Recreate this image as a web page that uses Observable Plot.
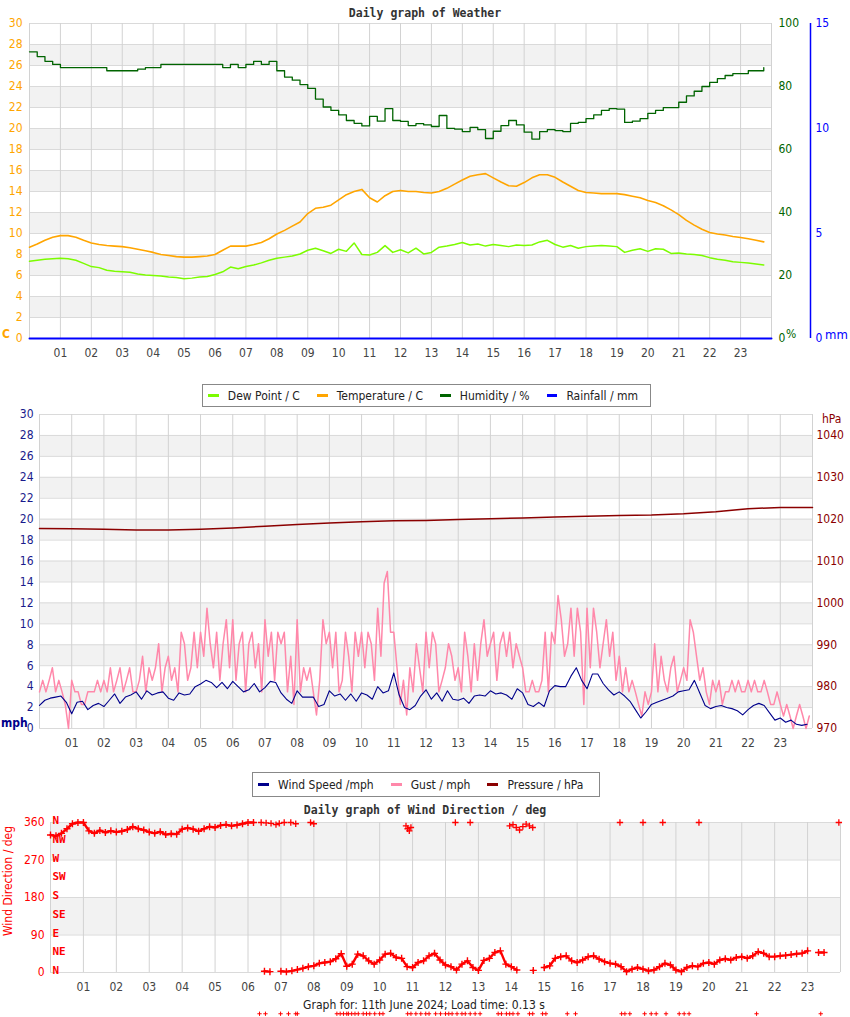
<!DOCTYPE html>
<html><head><meta charset="utf-8">
<script src="https://cdn.jsdelivr.net/npm/d3@7"></script>
<script src="https://cdn.jsdelivr.net/npm/@observablehq/plot@0.6"></script>
<style>
body{margin:0;background:#fff;}
#wrap{position:relative;width:850px;height:1017px;overflow:hidden;font-family:"DejaVu Sans Condensed","DejaVu Sans",sans-serif;}
.abs{position:absolute;white-space:nowrap;line-height:14px;font-size:12px;z-index:5;}
.title{font-family:"DejaVu Sans Mono",monospace;font-weight:bold;font-size:11.5px;color:#333;transform:translateX(-50%);}
.legend{position:absolute;border:1px solid #888;background:#fff;font-size:12px;color:#222;display:flex;align-items:center;white-space:nowrap;z-index:6;box-sizing:border-box;}
.legend .sw{display:inline-block;width:11px;height:3px;margin:0 9px 0 5px;}
.legend .lb{margin-right:12px;}
</style></head>
<body><div id="wrap"></div>
<script>
// ---------- Chart 1: Weather (15-minute samples from 00:00) ----------
const weatherStepMin = 15;
const temperatureC = [
 8.7,9.0,9.35,9.65,9.8,9.8,9.65,9.35, 9.1,8.95,8.85,8.8,8.75,8.65,8.5,8.35,
 8.2,8.0,7.9,7.8,7.75,7.75,7.8,7.85, 8.0,8.4,8.8,8.8,8.8,8.95,9.15,9.5,
 9.95,10.3,10.7,11.1,11.9,12.4,12.5,12.7, 13.2,13.7,14.0,14.2,13.4,13.0,13.6,14.0,
 14.1,14.0,14.0,13.9,13.85,14.0,14.3,14.7, 15.1,15.45,15.6,15.7,15.3,14.9,14.55,14.5,
 14.85,15.3,15.6,15.6,15.35,14.9,14.5,14.1, 13.9,13.85,13.8,13.8,13.8,13.7,13.55,13.4,
 13.15,12.95,12.65,12.25,11.8,11.25,10.8,10.4, 10.1,9.95,9.85,9.72,9.62,9.5,9.35,9.2];
const dewPointC = [
 7.35,7.45,7.55,7.6,7.65,7.6,7.45,7.15, 6.85,6.75,6.5,6.4,6.35,6.3,6.15,6.05,
 6.0,5.95,5.85,5.8,5.7,5.75,5.85,5.9, 6.1,6.35,6.8,6.65,6.85,7.0,7.2,7.45,
 7.65,7.75,7.85,8.05,8.4,8.6,8.35,8.1, 8.5,8.3,9.1,8.0,7.95,8.2,8.85,8.2,
 8.45,8.15,8.6,8.05,8.2,8.7,8.8,8.95, 9.15,8.9,9.0,8.8,8.95,8.85,8.75,8.9,
 8.85,8.9,9.2,9.35,8.95,8.7,8.85,8.6, 8.75,8.8,8.85,8.8,8.75,8.2,8.4,8.55,
 8.3,8.55,8.5,8.1,8.15,8.05,8.0,7.9, 7.7,7.55,7.45,7.3,7.25,7.2,7.1,7.0];
const humidityPct = [
 91,89.5,88,87,86,86,86,86, 86,86,85,85,85,85,85.5,86,
 86,87,87,87,87,87,87,87, 87,86,87,86,87,88,87,88,
 85,83,82,80.6,79.4,76,73.5,72.4, 71,69.2,68.3,67.5,70.5,69,73,69.2,
 68.9,67.6,68.2,67.8,67.3,70.8,66.7,66.5, 65.7,67,66.3,63.5,65.8,67.6,69.2,67.8,
 65.5,63.3,65.7,66.3,66,65.7,68.3,68.6, 69.8,71,72.4,73,72.8,68.6,69,69.8,
 71.5,72.4,73.3,73.3,75,77,78.5,80, 81.3,82.5,83.5,84.1,84.1,85,85,86];
const rainStepMin = 60;
const rainfallMm = [0,0,0,0,0,0,0,0,0,0,0,0,0,0,0,0,0,0,0,0,0,0,0,0,0];

// ---------- Chart 2: Wind speed / gust / pressure ----------
const speedStepMin = 10;
const windSpeedMph = [
 2.2,2.7,2.9,3.0,3.1,2.5, 1.4,2.5,2.6,1.8,2.2,2.4, 2.1,2.7,3.3,2.4,3.0,3.2,
 3.5,2.8,3.6,3.2,3.4,3.5, 2.9,2.7,3.4,3.2,3.3,4.0, 4.25,4.6,4.4,3.9,4.4,3.8,
 4.5,4.0,3.5,3.7,4.3,3.5, 3.9,4.5,4.4,3.4,2.8,2.4, 3.6,3.0,3.0,3.0,2.1,2.3,
 3.6,3.1,3.3,2.7,3.3,2.6, 3.4,3.2,2.8,4.0,3.4,3.6, 5.3,3.2,2.0,1.8,2.2,3.1,
 3.7,2.8,3.4,2.6,3.6,2.8, 2.7,2.9,2.4,3.1,3.2,3.1, 3.6,3.3,3.4,3.2,2.8,3.8,
 3.4,2.3,2.1,2.5,2.1,3.6, 4.1,4.0,4.0,5.0,5.8,4.6, 3.8,5.2,5.2,4.3,3.7,3.2,
 3.5,3.1,2.6,1.8,1.0,1.6, 2.3,2.5,2.7,2.9,3.1,3.5, 3.6,3.7,4.6,3.4,2.2,1.9,
 2.1,2.2,2.0,1.9,1.7,1.3, 1.8,2.2,2.4,2.2,1.5,0.8, 1.0,0.6,0.8,0.4,0.3,0.4];
const gustStepMin = 6;
const gustMph = [
 3.5,4.6,3.5,4.6,5.8,3.5,4.6,3.5,2.3,0.0,
 4.6,3.5,3.5,2.3,2.3,3.5,3.5,3.5,4.6,3.5,
 4.6,3.5,5.8,3.5,4.6,5.8,3.5,4.6,5.8,3.5,
 3.5,4.6,6.9,3.5,5.8,4.6,5.8,8.1,3.5,5.8,
 6.9,4.6,5.8,3.5,9.2,8.1,4.6,5.8,9.2,5.8,
 9.2,6.9,11.5,8.1,5.8,9.2,4.6,8.1,10.4,5.8,
 10.4,4.6,8.1,9.2,3.5,8.1,9.2,5.8,8.1,3.5,
 10.4,6.9,9.2,4.6,9.2,8.1,9.2,3.5,6.9,2.3,
 10.4,3.5,5.8,4.6,5.8,3.5,1.3,4.6,10.4,8.1,
 9.2,5.8,9.2,3.5,4.6,9.2,6.9,3.5,9.2,6.9,
 9.2,5.8,9.2,8.1,4.6,11.5,6.9,13.9,15.0,9.2,
 9.2,5.8,2.3,4.6,1.3,5.8,3.5,8.1,5.8,3.5,
 9.2,5.8,9.2,8.1,3.5,4.6,5.8,8.1,6.9,4.6,
 5.8,3.5,9.2,6.9,3.5,8.1,4.6,8.1,10.4,6.9,
 8.1,9.2,4.6,8.1,9.2,6.9,9.2,5.8,8.1,6.9,
 5.8,3.5,3.5,4.6,3.5,3.5,4.6,9.2,3.5,9.2,
 8.1,12.7,10.4,6.9,8.1,11.5,6.9,11.5,9.2,2.3,
 11.5,5.8,11.5,9.2,5.8,8.1,10.4,6.9,9.2,4.6,
 6.9,3.5,5.8,3.5,4.6,3.5,2.3,1.2,3.5,2.3,
 3.5,8.1,3.5,6.9,4.6,3.5,5.8,6.9,3.5,4.6,
 5.8,4.6,10.4,9.2,6.9,4.6,5.8,3.5,2.3,4.6,
 3.5,4.6,2.3,3.5,3.5,4.6,3.5,4.6,3.5,3.5,
 4.6,3.5,4.6,3.5,3.5,4.6,3.5,2.3,2.3,3.5,
 2.3,1.2,2.3,1.2,0.0,1.2,2.3,1.2,0.0,1.2];
const pressureStepMin = 60;
const pressureHpa = [1017.8,1017.7,1017.6,1017.4,1017.4,1017.6,1017.9,1018.3,1018.7,1019.1,1019.4,1019.6,
 1019.7,1019.9,1020.1,1020.3,1020.5,1020.7,1020.9,1021.0,1021.3,1021.8,1022.5,1022.8,1022.8];

// ---------- Chart 3: Wind direction ----------
const dirStepMin = 10;
const windDirDeg = [
 330,328,334,345,357,360, 360,340,334,341,336,340, 337,339,343,350,345,342,
 337,334,338,331,333,332, 344,347,344,339,345,350, 348,353,355,352,354,357,
 360,360,null,3,2,null, 3,2,4,7,10,14, 16,22,24,26,33,45,
 15,20,44,40,28,20, 30,44,46,36,34,14, 12,24,28,40,46,30,
 18,14,6,20,28,12, 5,29,34,48,52,20, 14,6,null,null,5,null,
 12,16,34,38,40,28, 24,30,38,40,32,26, 22,20,14,2,8,12,
 8,4,6,14,22,18, 6,2,12,16,14,22, 24,20,30,33,30,36,
 38,34,40,50,46,38, 38,40,41,43,45,46, 52,null,48,48,null,null];
const northHours = [6.4,6.55,6.7,6.85,6.95,7.1,7.3,7.45,7.9,8.0,10.8,10.85,10.9,10.95,12.3,12.75,
 13.95,14.05,14.15,14.25,14.35,14.45,14.55,14.65,17.3,18.0,18.6,19.7,23.95];
const northDeg = [360,359,358,355,358,360,360,357,360,357,352,345,340,348,360,360,
 352,355,348,342,350,356,352,348,360,360,360,360,360];
const calmHours = [6.35,6.53,6.99,7.23,7.45,7.5,8.7,8.8,8.9,9.0,9.05,9.15,9.25,9.35,9.5,9.6,9.7,9.85,10.0,10.1,
 10.85,10.95,11.1,11.25,11.4,11.5,11.7,11.85,12.0,12.1,12.2,12.35,12.5,12.6,12.75,12.9,13.05,
 13.6,13.7,13.85,13.95,14.05,14.2,14.55,14.65,14.95,15.05,15.7,15.95,17.35,17.45,17.6,
 18.05,18.25,18.4,18.7,19.1,19.25,19.4,21.45,23.4];
const calmDeg = -99;
const compassNames = ["N","NE","E","SE","S","SW","W","NW","N"];
const compassDeg = [0,45,90,135,180,225,270,315,360];

// ---------- ticks & legend entries ----------
const hourTicks = d3.range(1, 24);
const leftTicks = d3.range(0, 31, 2);
const humidityTicks = [0,20,40,60,80,100];
const rainTicks = [0,5,10,15];
const pressureTicks = [970,980,990,1000,1010,1020,1030,1040];
const dirTicks = [0,90,180,270,360];
const legend1Names = ["Dew Point / C","Temperature / C","Humidity / %","Rainfall / mm"];
const legend1Colors = ["#7cfc00","#ffa500","#006400","#0000ff"];
const legend2Names = ["Wind Speed /mph","Gust / mph","Pressure / hPa"];
const legend2Colors = ["#00008b","#ff88aa","#8b0000"];

// ---------- build ----------
const wrap = document.getElementById("wrap");
const fmt2 = d => String(d).padStart(2, "0");
const font = "'DejaVu Sans Condensed','DejaVu Sans',sans-serif";
const series = (arr, step, key) => arr.map((v, i) => ({h: i * step / 60, [key]: v}));
const hum2y = h => h * 0.3;       // 0-100 %  -> 0-30 axis
const rain2y = r => r * 2;        // 0-15 mm  -> 0-30 axis
const p2y = p => (p - 970) * 0.4; // 970-1045 hPa -> 0-30 axis

function place(svg, top) {
  svg.style.position = "absolute"; svg.style.left = "0px"; svg.style.top = top + "px";
  svg.style.background = "transparent"; svg.style.overflow = "visible";
  wrap.appendChild(svg);
}
function addText(txt, cls, css) {
  const d = document.createElement("div"); d.className = "abs " + (cls||""); d.textContent = txt;
  Object.assign(d.style, css); wrap.appendChild(d); return d;
}
function addLegend(names, colors, css) {
  const L = document.createElement("div"); L.className = "legend"; Object.assign(L.style, css);
  names.forEach((n, i) => {
    const s = document.createElement("span"); s.className = "sw"; s.style.background = colors[i]; L.appendChild(s);
    const t = document.createElement("span"); t.className = "lb"; t.textContent = n; L.appendChild(t);
  });
  wrap.appendChild(L);
}
const bands = (lo, hi, step) => d3.range(lo, hi, step);
const hourAxis = () => Plot.axisX(hourTicks, {tickSize: 0, tickPadding: 10, tickFormat: fmt2, color: "#444", label: null});

// Chart 1
const temps = series(temperatureC, weatherStepMin, "v");
const dews = series(dewPointC, weatherStepMin, "v");
const hums = series(humidityPct, weatherStepMin, "v");
const rains = series(rainfallMm, rainStepMin, "v");
const c1 = Plot.plot({
  width: 850, height: 365, marginTop: 23, marginBottom: 27, marginLeft: 29, marginRight: 79,
  style: {fontFamily: font, fontSize: "12px"},
  x: {domain: [0, 24], axis: null, label: null}, y: {domain: [0, 30], axis: null, label: null},
  marks: [
    Plot.rect(bands(2, 30, 4), {x1: d => 0, x2: d => 24, y1: d => d, y2: d => d + 2, fill: "#f2f2f2"}),
    Plot.gridY(leftTicks, {stroke: "#dadada", strokeOpacity: 1}),
    Plot.gridX(d3.range(0, 25), {stroke: "#d2d2d2", strokeOpacity: 1}),
    hourAxis(),
    Plot.axisY(leftTicks, {anchor: "left", tickSize: 0, tickPadding: 7, color: "#ffa500", label: null}),
    Plot.axisY(humidityTicks.map(hum2y), {anchor: "right", tickSize: 0, tickPadding: 7, tickFormat: v => String(Math.round(v / 0.3)), color: "#006400", label: null}),
    Plot.axisY(rainTicks.map(rain2y), {anchor: "right", tickSize: 0, tickPadding: 44, tickFormat: v => String(v / 2), color: "#0000ff", label: null}),
    Plot.ruleX([24], {dx: 39, stroke: "#0000ff", strokeWidth: 1.5}),
    Plot.line(hums, {x: "h", y: d => hum2y(d.v), stroke: "#006400", strokeWidth: 1.3, curve: "step-after"}),
    Plot.line(temps, {x: "h", y: "v", stroke: "#ffa500", strokeWidth: 1.6}),
    Plot.line(dews, {x: "h", y: "v", stroke: "#7cfc00", strokeWidth: 1.5}),
    Plot.line(rains, {x: "h", y: d => rain2y(d.v), stroke: "#0000ff", strokeWidth: 2})
  ]
});
place(c1, 0);
addText("Daily graph of Weather", "title", {left: "425px", top: "6px"});
addText("C", "", {left: "2px", top: "327px", color: "#ffa500", fontWeight: "bold"});
addText("%", "", {left: "786px", top: "327px", color: "#006400"});
addText("mm", "", {left: "825px", top: "328px", color: "#0000ff", fontSize: "13px"});
addLegend(legend1Names, legend1Colors, {left: "202px", top: "384px", width: "449px", height: "23px"});

// Chart 2
const speeds = series(windSpeedMph, speedStepMin, "v");
const gusts = series(gustMph, gustStepMin, "v");
const press = series(pressureHpa, pressureStepMin, "v");
const c2 = Plot.plot({
  width: 850, height: 360, marginTop: 14, marginBottom: 32, marginLeft: 39, marginRight: 38,
  style: {fontFamily: font, fontSize: "12px"},
  x: {domain: [0, 24], axis: null, label: null}, y: {domain: [0, 30], axis: null, label: null},
  marks: [
    Plot.rect(bands(2, 30, 4), {x1: d => 0, x2: d => 24, y1: d => d, y2: d => d + 2, fill: "#f2f2f2"}),
    Plot.gridY(leftTicks, {stroke: "#dadada", strokeOpacity: 1}),
    Plot.gridX(d3.range(0, 25), {stroke: "#d2d2d2", strokeOpacity: 1}),
    hourAxis(),
    Plot.axisY(leftTicks, {anchor: "left", tickSize: 0, tickPadding: 6, color: "#1a1a8c", label: null}),
    Plot.axisY(pressureTicks.map(p2y), {anchor: "right", tickSize: 0, tickPadding: 4, tickFormat: v => String(Math.round(v / 0.4 + 970)), color: "#8b0000", label: null}),
    Plot.line(press, {x: "h", y: d => p2y(d.v), stroke: "#8b0000", strokeWidth: 1.5}),
    Plot.line(gusts, {x: "h", y: "v", stroke: "#ff88aa", strokeWidth: 1.5}),
    Plot.line(speeds, {x: "h", y: "v", stroke: "#00008b", strokeWidth: 1.1})
  ]
});
place(c2, 400);
addText("mph", "", {left: "1px", top: "716px", color: "#00008b", fontWeight: "bold"});
addText("hPa", "", {left: "822px", top: "412px", color: "#8b0000"});
addLegend(legend2Names, legend2Colors, {left: "252px", top: "772px", width: "348px", height: "25px"});

// Chart 3
const dirs = series(windDirDeg, dirStepMin, "v");
const norths = northHours.map((h, i) => ({h, v: northDeg[i]}));
const calms = calmHours.map(h => ({h, v: calmDeg}));
const compass = compassNames.map((n, i) => ({n, v: compassDeg[i]}));
const c3 = Plot.plot({
  width: 850, height: 207, marginTop: 12, marginBottom: 45, marginLeft: 50, marginRight: 10,
  style: {fontFamily: font, fontSize: "12px"},
  x: {domain: [0, 24], axis: null, label: null}, y: {domain: [0, 360], axis: null, label: null},
  marks: [
    Plot.rect([90, 270], {x1: d => 0, x2: d => 24, y1: d => d, y2: d => d + 90, fill: "#f2f2f2"}),
    Plot.gridY(dirTicks, {stroke: "#dadada", strokeOpacity: 1}),
    Plot.gridX(d3.range(0, 25), {stroke: "#d2d2d2", strokeOpacity: 1}),
    hourAxis(),
    Plot.axisY(dirTicks, {anchor: "left", tickSize: 0, tickPadding: 6, color: "#ff0000", label: null}),
    Plot.text(compass, {frameAnchor: "left", y: "v", text: "n", textAnchor: "start", dx: 2, dy: -2,
      fill: "#ff0000", fontWeight: "bold", fontFamily: "'DejaVu Sans Mono',monospace", fontSize: 11}),
    Plot.line(dirs, {x: "h", y: "v", stroke: "#ff0000", strokeWidth: 2.4}),
    Plot.dot(dirs, {x: "h", y: "v", symbol: "plus", r: 2.4, stroke: "#ff0000", strokeWidth: 1.4}),
    Plot.dot(norths, {x: "h", y: "v", symbol: "plus", r: 2.2, stroke: "#ff0000", strokeWidth: 1.3}),
    Plot.dot(calms, {x: "h", y: "v", symbol: "plus", r: 1.5, stroke: "#ff0000", strokeWidth: 1})
  ]
});
place(c3, 810);
addText("Daily graph of Wind Direction / deg", "title", {left: "425px", top: "803px"});
addText("Wind Direction / deg", "", {left: "8px", top: "881px", color: "#ff0000",
  transform: "translate(-50%,-50%) rotate(-90deg)"});
addText("Graph for: 11th June 2024; Load time: 0.13 s", "", {left: "424px", top: "998px", color: "#222", transform: "translateX(-50%)"});
</script>
</body></html>
